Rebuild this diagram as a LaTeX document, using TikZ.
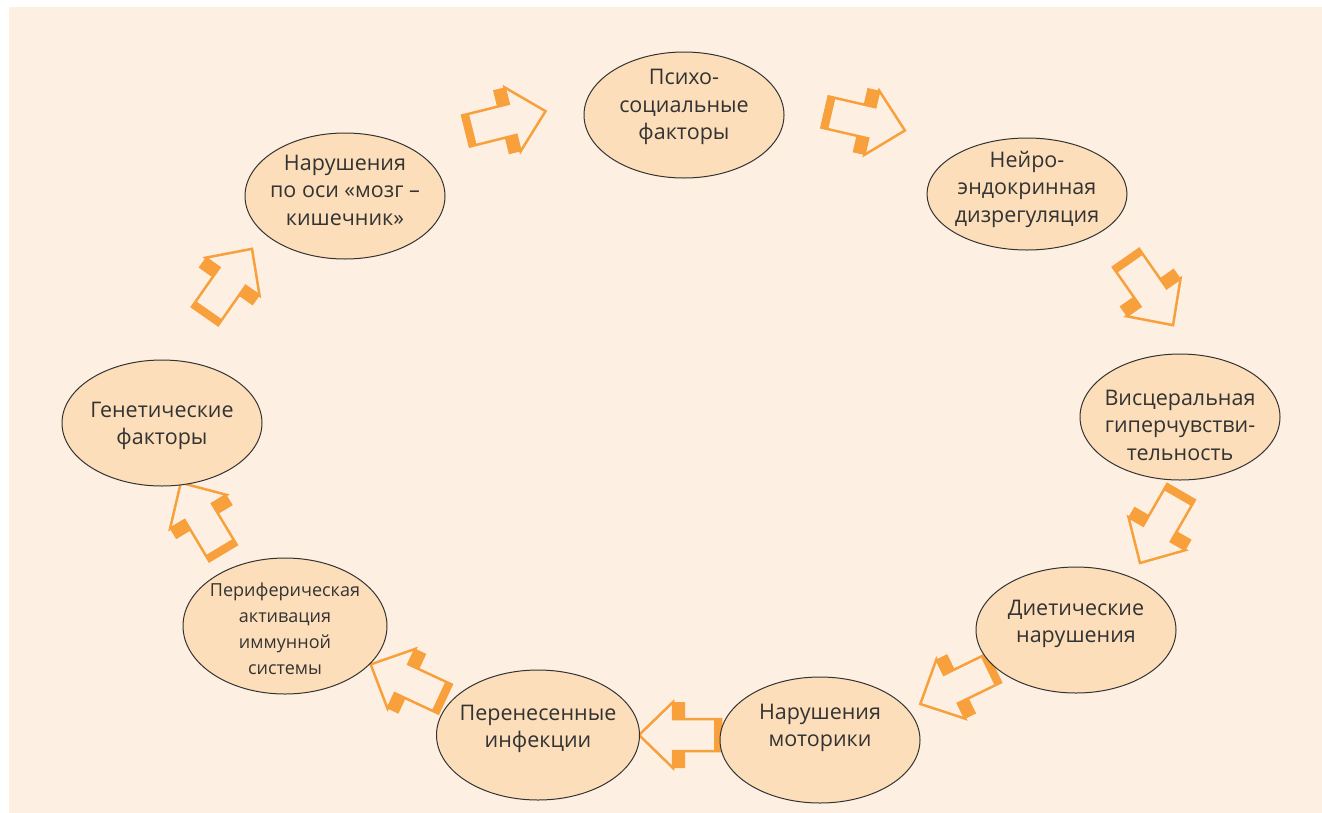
\documentclass[tikz,border=0pt]{standalone}
\usepackage{fontspec}
\setmainfont{Open Sans}
\usetikzlibrary{shapes.geometric}
\definecolor{bgpeach}{RGB}{253,240,227}
\definecolor{fillpeach}{RGB}{252,222,186}
\definecolor{arroworange}{RGB}{247,160,60}
\definecolor{textgray}{RGB}{51,51,51}

\begin{document}
\begin{tikzpicture}[x=1pt,y=-1pt,
  factor/.style={ellipse,draw=textgray,line width=1pt,fill=fillpeach,
    minimum width=200pt,minimum height=126pt,inner sep=0pt},
  factortext/.style={align=center,inner sep=0pt,text=textgray,
    font=\fontsize{21.5}{27.5}\selectfont},
  bigarrow/.pic={
    \draw[arroworange,line width=2.5pt,line join=miter]
      (0,-16) -- (48,-16) -- (48,-33) -- (82,0) -- (48,33) -- (48,16) -- (0,16) -- cycle;
    \fill[arroworange] (0,-16) rectangle (7,16)
      (36,-33) rectangle (48,-16) (36,16) rectangle (48,33);
  }]
\useasboundingbox (0,0) rectangle (1322,812);
\fill[white] (0,0) rectangle (1330,820);
\fill[bgpeach] (9,7) rectangle (1330,820);

% arrows round the circle
\pic[rotate=14] at (466,131) {bigarrow};
\pic[rotate=-13] at (825,112) {bigarrow};
\pic[rotate=-55] at (1126,258) {bigarrow};
\pic[rotate=-120] at (1181,492) {bigarrow};
\pic[rotate=-154] at (994,668) {bigarrow};
\pic[rotate=180] at (721,735) {bigarrow};
\pic[rotate=155] at (445,699) {bigarrow};
\pic[rotate=121] at (223,553) {bigarrow};
\pic[rotate=55] at (205,316) {bigarrow};

% factors
\node[factor] (psycho) at (684,115) {};
\node[factor,minimum height=112pt] (neuro) at (1027,194) {};
\node[factor] (visc) at (1180,417) {};
\node[factor] (diet) at (1076,630) {};
\node[factor] (motor) at (820,740) {};
\node[factor,minimum width=203pt,minimum height=130pt] (infect) at (538,735) {};
\node[factor,minimum width=204pt,minimum height=136pt] (immune) at (285,626) {};
\node[factor] (genet) at (162,423) {};
\node[factor] (axis) at (345,196) {};

% texts
\node[factortext] (psycho-t) at ([yshift=8pt]psycho) {Психо-\\социальные\\факторы};
\node[factortext] (neuro-t) at ([yshift=5pt]neuro) {Нейро-\\эндокринная\\дизрегуляция};
\node[factortext] (visc-t) at ([yshift=-8pt]visc) {Висцеральная\\гиперчувстви-\\тельность};
\node[factortext] (diet-t) at ([yshift=6pt]diet) {Диетические\\нарушения};
\node[factortext] (motor-t) at ([yshift=12pt]motor) {Нарушения\\моторики};
\node[factortext] (infect-t) at ([yshift=6pt]infect) {Перенесенные\\инфекции};
\node[factortext,font=\fontsize{18}{26}\selectfont] (immune-t) at ([yshift=-3pt]immune)
  {Периферическая\\активация\\иммунной\\системы};
\node[factortext] (genet-t) at ([yshift=-3pt]genet) {Генетические\\факторы};
\node[factortext] (axis-t) at ([yshift=6pt]axis) {Нарушения\\по оси «мозг –\\кишечник»};
\end{tikzpicture}
\end{document}
